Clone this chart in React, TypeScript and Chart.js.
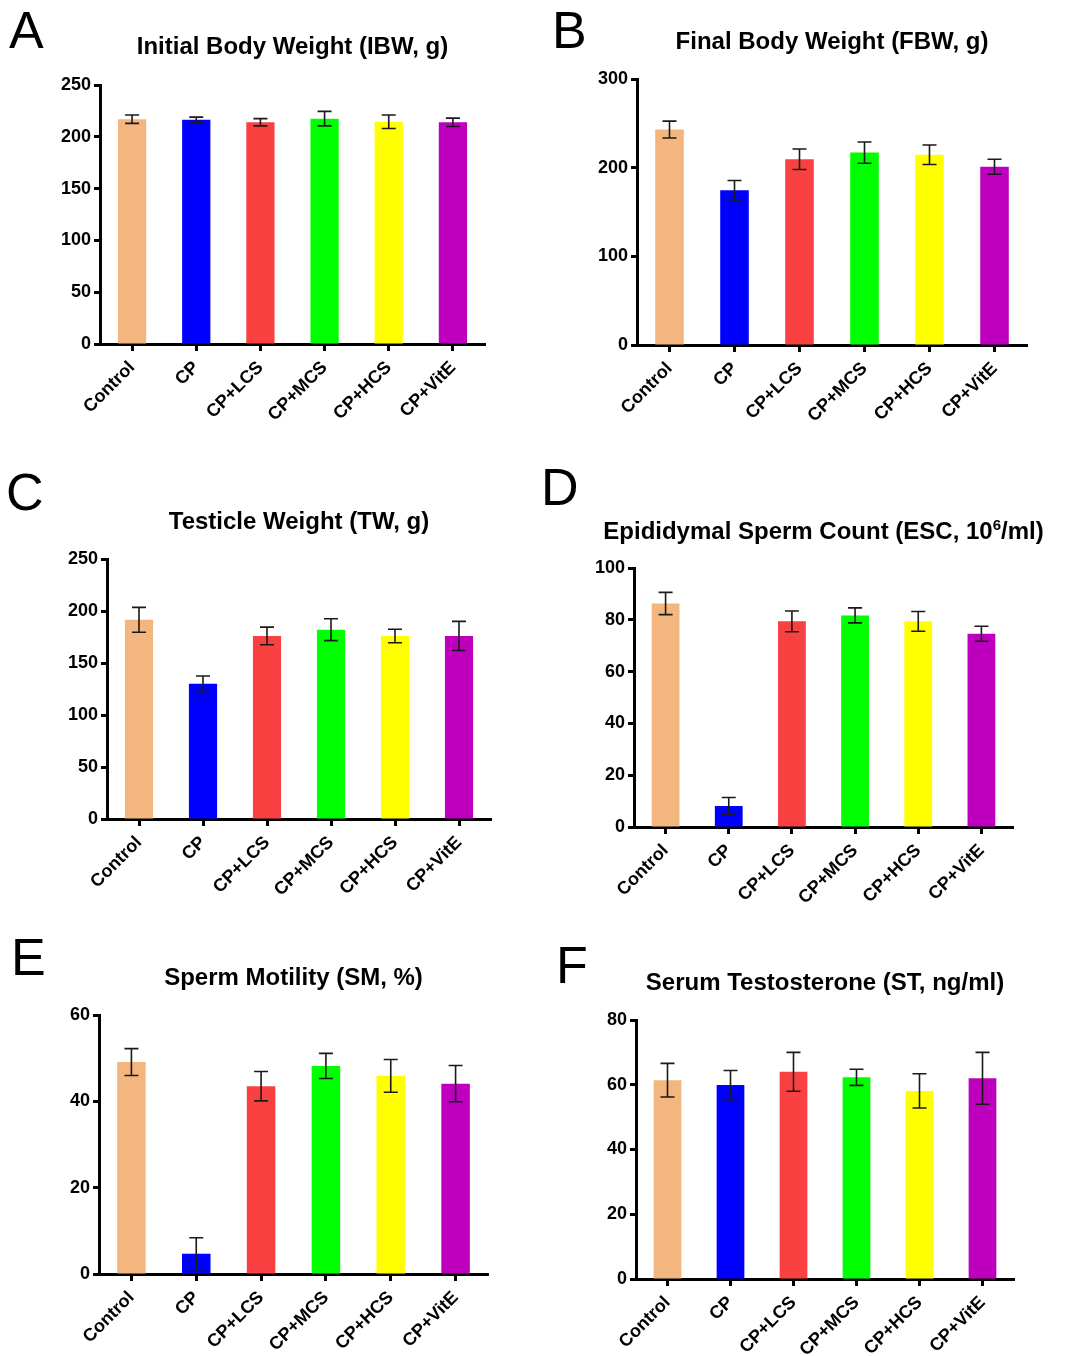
import React, { useEffect, useRef } from 'react';
import { Chart, registerables } from 'chart.js';

Chart.register(...registerables);

// ---------- data ----------
const categories = ['Control', 'CP', 'CP+LCS', 'CP+MCS', 'CP+HCS', 'CP+VitE'];
const barColors = ['#F2B67E', '#0000FF', '#FA4141', '#00FF00', '#FFFF00', '#BE00BE'];

const ibwMean = [217, 216.5, 214, 217.5, 214.5, 214];
const ibwErr = [4, 2.5, 3.5, 7, 6.5, 4];

const fbwMean = [243, 174.5, 209.5, 217, 214.5, 201];
const fbwErr = [9.5, 11, 11.5, 12, 11, 8.5];

const twMean = [191.5, 130, 176, 182, 176, 176];
const twErr = [12, 7.5, 8.5, 10.5, 6.5, 14];

const escMean = [86.3, 8.1, 79.4, 81.7, 79.4, 74.6];
const escErr = [4.3, 3.3, 4, 2.9, 3.8, 2.9];

const smMean = [49.1, 4.7, 43.5, 48.2, 45.9, 44.1];
const smErr = [3.1, 3.7, 3.4, 2.9, 3.8, 4.2];

const stMean = [61.4, 59.9, 64, 62.3, 58.1, 62];
const stErr = [5.2, 4.5, 6, 2.5, 5.3, 8];

const titles = [
  'Initial Body Weight (IBW, g)',
  'Final Body Weight (FBW, g)',
  'Testicle Weight (TW, g)',
  'Epididymal Sperm Count (ESC, 10\u2076/ml)',
  'Sperm Motility (SM, %)',
  'Serum Testosterone (ST, ng/ml)',
];
const letters = ['A', 'B', 'C', 'D', 'E', 'F'];
const axisMax = [250, 300, 250, 100, 60, 80];
const axisStep = [50, 100, 50, 20, 20, 20];

// ---------- layout (positions only) ----------
const FONT = '"Liberation Sans", Arial, Helvetica, sans-serif';
const Y_W = 60;
const X_H = 95;
const TITLE_SIZE = 24;
const SUP_SIZE = 15;
const SUP_RAISE = 9;

type Layout = {
  box: [number, number, number, number];
  area: [number, number, number, number];
  titleBase: number;
  letterX: number;
  letterBase: number;
};

const layouts: Layout[] = [
  { box: [0, 0, 530, 455], area: [100, 85, 485, 344], titleBase: 53.5, letterX: 9, letterBase: 48 },
  { box: [530, 0, 537, 455], area: [637, 79, 1027, 345], titleBase: 48.5, letterX: 552, letterBase: 48 },
  { box: [0, 455, 530, 465], area: [107, 559, 491, 819], titleBase: 528.5, letterX: 6, letterBase: 510 },
  { box: [530, 455, 537, 465], area: [634, 568, 1013, 827], titleBase: 538.5, letterX: 541, letterBase: 505 },
  { box: [0, 920, 530, 436], area: [99, 1015, 488, 1274], titleBase: 985, letterX: 11, letterBase: 975 },
  { box: [530, 920, 537, 436], area: [636, 1020, 1014, 1279], titleBase: 990, letterX: 556, letterBase: 983 },
];

const panelMeans = [ibwMean, fbwMean, twMean, escMean, smMean, stMean];
const panelErrs = [ibwErr, fbwErr, twErr, escErr, smErr, stErr];

const SUPERS: Record<string, string> = {
  '\u2070': '0', '\u00B9': '1', '\u00B2': '2', '\u00B3': '3', '\u2074': '4',
  '\u2075': '5', '\u2076': '6', '\u2077': '7', '\u2078': '8', '\u2079': '9',
};

// ---------- plugins ----------
const errorBarPlugin = {
  id: 'errorBars',
  afterDatasetsDraw(chart: any, _args: any, opts: any) {
    const { ctx } = chart;
    const meta = chart.getDatasetMeta(0);
    const ys = chart.scales.y;
    const data = chart.data.datasets[0].data as number[];
    const errs: number[] = opts.errors || [];
    ctx.save();
    ctx.strokeStyle = '#1a1a1a';
    ctx.lineWidth = 1.6;
    meta.data.forEach((bar: any, i: number) => {
      const v = data[i];
      const e = errs[i] || 0;
      const x = bar.x;
      const yT = ys.getPixelForValue(v + e);
      const yB = ys.getPixelForValue(Math.max(v - e, 0));
      const cap = 7;
      ctx.beginPath();
      ctx.moveTo(x, yT);
      ctx.lineTo(x, yB);
      ctx.moveTo(x - cap, yT);
      ctx.lineTo(x + cap, yT);
      ctx.moveTo(x - cap, yB);
      ctx.lineTo(x + cap, yB);
      ctx.stroke();
    });
    ctx.restore();
  },
};

const panelTextPlugin = {
  id: 'panelText',
  afterDraw(chart: any, _args: any, opts: any) {
    const { ctx, chartArea } = chart;
    ctx.save();
    ctx.fillStyle = '#000';
    ctx.textBaseline = 'alphabetic';
    ctx.textAlign = 'left';
    // split title into normal / superscript runs
    const runs: { t: string; sup: boolean }[] = [];
    for (const ch of opts.title as string) {
      const sup = ch in SUPERS;
      const t = sup ? SUPERS[ch] : ch;
      const last = runs[runs.length - 1];
      if (last && last.sup === sup) last.t += t;
      else runs.push({ t, sup });
    }
    const fontOf = (sup: boolean) => `bold ${sup ? SUP_SIZE : TITLE_SIZE}px ${FONT}`;
    let total = 0;
    runs.forEach((r) => {
      ctx.font = fontOf(r.sup);
      total += ctx.measureText(r.t).width;
    });
    let x = (chartArea.left + chartArea.right) / 2 - total / 2;
    runs.forEach((r) => {
      ctx.font = fontOf(r.sup);
      ctx.fillText(r.t, x, opts.titleBase - (r.sup ? SUP_RAISE : 0));
      x += ctx.measureText(r.t).width;
    });
    ctx.font = `52px ${FONT}`;
    ctx.fillText(opts.letter, opts.letterX, opts.letterBase);
    ctx.restore();
  },
};

function PanelChart({ idx }: { idx: number }) {
  const ref = useRef<HTMLCanvasElement | null>(null);
  const L = layouts[idx];
  const [bx, by, bw, bh] = L.box;
  const [al, at, ar, ab] = L.area;

  useEffect(() => {
    if (!ref.current) return;
    const tickFont = { family: FONT, size: 18, weight: 'bold' as const };
    const chart = new Chart(ref.current, {
      type: 'bar',
      data: {
        labels: categories,
        datasets: [
          {
            data: panelMeans[idx],
            backgroundColor: barColors,
            borderWidth: 0,
            barPercentage: 0.44,
            categoryPercentage: 1,
          },
        ],
      },
      options: {
        responsive: false,
        animation: false,
        layout: {
          padding: {
            left: al - bx - Y_W,
            top: at - by,
            right: bx + bw - ar,
            bottom: by + bh - ab - X_H,
          },
        },
        plugins: {
          legend: { display: false },
          tooltip: { enabled: false },
          title: { display: false },
          errorBars: { errors: panelErrs[idx] },
          panelText: {
            title: titles[idx],
            letter: letters[idx],
            titleBase: L.titleBase - by,
            letterX: L.letterX - bx,
            letterBase: L.letterBase - by,
          },
        } as any,
        scales: {
          x: {
            offset: true,
            grid: {
              display: true,
              offset: false,
              drawOnChartArea: false,
              drawTicks: true,
              tickLength: 7,
              tickWidth: 3,
              tickColor: '#000',
              color: '#000',
            },
            border: { display: true, color: '#000', width: 3 },
            ticks: {
              color: '#000',
              font: tickFont,
              minRotation: 45,
              maxRotation: 45,
              autoSkip: false,
              padding: 6,
            },
            afterFit: (s: any) => {
              s.height = X_H;
            },
          },
          y: {
            min: 0,
            max: axisMax[idx],
            grid: {
              display: true,
              drawOnChartArea: false,
              drawTicks: true,
              tickLength: 6,
              tickWidth: 3,
              tickColor: '#000',
              color: '#000',
            },
            border: { display: true, color: '#000', width: 3 },
            ticks: {
              stepSize: axisStep[idx],
              color: '#000',
              font: tickFont,
              padding: 3,
            },
            afterFit: (s: any) => {
              s.width = Y_W;
            },
          },
        },
      },
      plugins: [errorBarPlugin, panelTextPlugin],
    });
    return () => chart.destroy();
  }, [idx]);

  return (
    <canvas
      ref={ref}
      width={bw}
      height={bh}
      style={{ position: 'absolute', left: bx, top: by, width: bw, height: bh }}
    />
  );
}

export default function App() {
  return (
    <div
      style={{
        position: 'absolute',
        left: 0,
        top: 0,
        width: 1067,
        height: 1356,
        background: '#fff',
        overflow: 'hidden',
      }}
    >
      {layouts.map((_, i) => (
        <PanelChart key={i} idx={i} />
      ))}
    </div>
  );
}
